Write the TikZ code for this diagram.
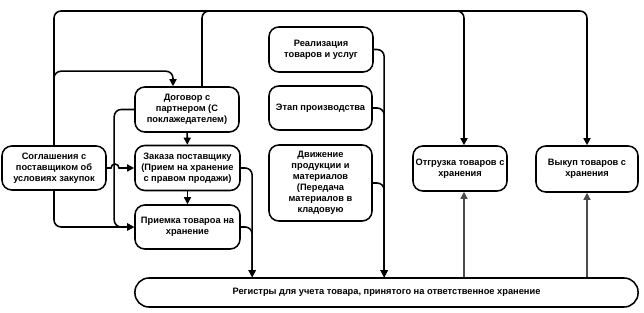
\documentclass[tikz,border=0pt]{standalone}
\usepackage{fontspec}
\setmainfont{Liberation Sans}
\usetikzlibrary{arrows.meta, calc}
\colorlet{rule}{black}
\colorlet{feedC}{black!70}
\tikzset{
  card/.style   ={draw=rule, rounded corners=7pt, line width=1.1pt, fill=white,
                  align=center, inner sep=1pt,
                  font=\bfseries\fontsize{6.6}{7.8}\selectfont},
  Lbox/.style   ={card, minimum width=2.6cm, minimum height=1.125cm},
  Lreg/.style   ={card, rounded corners=10pt, minimum width=12.575cm,
                  minimum height=0.725cm},
  flow/.style   ={-{Triangle[length=5pt, width=5pt]}, rule, line width=1.1pt,
                  rounded corners=5pt},
  feed/.style   ={-{Triangle[length=5pt, width=5pt]}, feedC, line width=0.8pt},
}
\begin{document}
\begin{tikzpicture}[x=0.025cm, y=-0.025cm]
\useasboundingbox (0,0) rectangle (644,313);

% left column
\node[Lbox, minimum height=1.1cm] (sogl) at (54,168)
  {Соглашения с\\поставщиком об\\условиях закупок};
\node[Lbox] (dog) at (187,109.5) {Договор с\\партнером (С\\поклажедателем)};
\node[Lbox, minimum width=2.625cm] (zak) at (187.5,168)
  {Заказа поставщику\\(Прием на хранение\\с правом продажи)};
\node[Lbox, minimum width=2.625cm, minimum height=1.1cm] (prm) at (187.5,227)
  {Приемка товароа на\\хранение};

% middle column
\node[Lbox] (real) at (321,49.5) {Реализация\\товаров и услуг};
\node[Lbox, minimum width=2.575cm, minimum height=1.1cm] (etap) at (320.5,108)
  {Этап производства};
\node[Lbox, minimum width=2.575cm, minimum height=1.9cm] (dviz) at (320.5,183)
  {Движение\\продукции и\\материалов\\(Передача\\материалов в\\кладовую};

% right column
\node[Lbox, minimum width=2.35cm] (otg) at (460,168.5) {Отгрузка товаров с\\хранения};
\node[Lbox, minimum width=2.55cm, minimum height=1.15cm] (vyk) at (587,169)
  {Выкуп товаров с\\хранения};

\node[Lreg] (reg) at (386.5,292.5)
  {Регистры для учета товара, принятого на ответственное хранение};

\coordinate (top)   at (0,11);
\coordinate (dogUp) at ($(dog.north)+(15,0)$);
\coordinate (dogIn) at ($(dog.north)+(-14,0)$);
\coordinate (otgIn) at ($(otg.north)+(4,0)$);
\coordinate (regL)  at ($(reg.north west)+(118,0)$);
\coordinate (regM)  at ($(reg.north west)+(250,0)$);

% top bus
\draw[flow] (sogl.north) |- (top -| vyk.north) -- (vyk.north);
\draw[flow] (dogUp) |- (top -| otgIn) -- (otgIn);
\draw[flow] (sogl.north) -- ++(0,-74) -| (dogIn);

% left links
\draw[flow] (dog) -- (zak);
\draw[flow] (zak) -- (prm);
\draw[flow] (dog.west) -- ++(-20,0) |- (prm.west);
\draw[flow, sharp corners] (sogl.east) -- (111,168)
  arc[start angle=180, end angle=360, radius=4] -- (zak.west);
\draw[flow] (sogl.south) |- (prm.west);

% into the register
\draw[flow] (zak.east) -| (regL);
\draw[flow] (prm.east) -| (regL);
\draw[flow] (real.east) -| (regM);
\draw[flow] (etap.east) -| (regM);
\draw[flow] (dviz.east) -| (regM);

% out of the register
\draw[feed] (reg.north -| otgIn) -- (otg.south -| otgIn);
\draw[feed] (reg.north -| vyk.south) -- (vyk.south);

\end{tikzpicture}
\end{document}
